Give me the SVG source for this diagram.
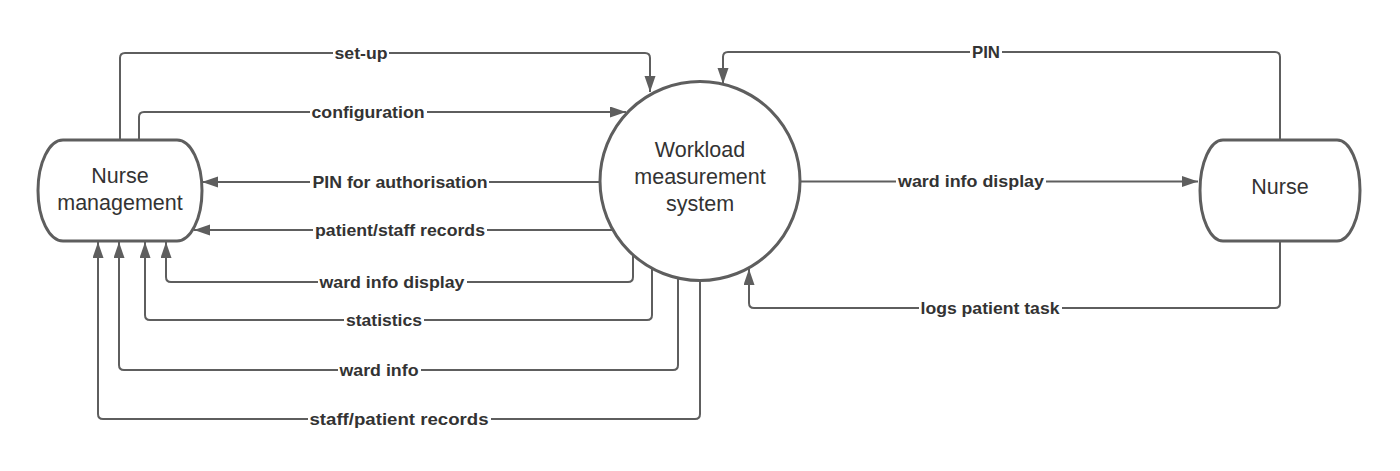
<svg xmlns="http://www.w3.org/2000/svg" width="1400" height="471" viewBox="0 0 1400 471">
<style>
.node{fill:#ffffff;stroke:#5e5e5e;stroke-width:3}
.ntext{font-family:"Liberation Sans",Arial,sans-serif;font-size:21.5px;fill:#333333;text-anchor:middle}
.conn{fill:none;stroke:#5e5e5e;stroke-width:2}
.lbg{fill:#ffffff}
.ltext{font-family:"Liberation Sans",Arial,sans-serif;font-size:16.5px;font-weight:bold;fill:#333333;text-anchor:middle}
</style>
<defs>
<marker id="arrow" markerUnits="userSpaceOnUse" markerWidth="17" markerHeight="12" refX="16" refY="5.5" orient="auto">
<path d="M0,0 L16,5.5 L0,11 z" fill="#5e5e5e"/>
</marker>
</defs>
<rect width="1400" height="471" fill="#ffffff"/>
<g id="connectors">
<path class="conn" marker-end="url(#arrow)" d="M120,140 V58 Q120,53 125,53 H645 Q650,53 650,58 V92"/>
<path class="conn" marker-end="url(#arrow)" d="M139,140 V117 Q139,112 144,112 H626"/>
<path class="conn" marker-end="url(#arrow)" d="M600,182 H202"/>
<path class="conn" marker-end="url(#arrow)" d="M613,230 H194"/>
<path class="conn" marker-end="url(#arrow)" d="M633,255 V277 Q633,282 628,282 H171 Q166,282 166,277 V242"/>
<path class="conn" marker-end="url(#arrow)" d="M652,269 V315 Q652,320 647,320 H150 Q145,320 145,315 V242"/>
<path class="conn" marker-end="url(#arrow)" d="M678,279 V365 Q678,370 673,370 H124 Q119,370 119,365 V242"/>
<path class="conn" marker-end="url(#arrow)" d="M700,281 V414 Q700,419 695,419 H103 Q98,419 98,414 V242"/>
<path class="conn" marker-end="url(#arrow)" d="M1280,140 V57 Q1280,52 1275,52 H728 Q723,52 723,57 V84"/>
<path class="conn" marker-end="url(#arrow)" d="M800,181.5 H1198"/>
<path class="conn" marker-end="url(#arrow)" d="M1280,241 V303 Q1280,308 1275,308 H754 Q749,308 749,303 V269"/>
<g id="labels">
<rect class="lbg" x="333" y="43" width="56" height="20"/>
<text class="ltext" x="361" y="58.5" textLength="53" lengthAdjust="spacingAndGlyphs">set-up</text>
<rect class="lbg" x="310" y="102" width="117" height="20"/>
<text class="ltext" x="368" y="117.5" textLength="113" lengthAdjust="spacingAndGlyphs">configuration</text>
<rect class="lbg" x="310" y="172" width="179" height="20"/>
<text class="ltext" x="400" y="187.5" textLength="175" lengthAdjust="spacingAndGlyphs">PIN for authorisation</text>
<rect class="lbg" x="313" y="220" width="174" height="20"/>
<text class="ltext" x="400" y="235.5" textLength="170" lengthAdjust="spacingAndGlyphs">patient/staff records</text>
<rect class="lbg" x="318" y="272" width="149" height="20"/>
<text class="ltext" x="392" y="287.5" textLength="145" lengthAdjust="spacingAndGlyphs">ward info display</text>
<rect class="lbg" x="344" y="310" width="80" height="20"/>
<text class="ltext" x="384" y="325.5" textLength="76" lengthAdjust="spacingAndGlyphs">statistics</text>
<rect class="lbg" x="338" y="360" width="83" height="20"/>
<text class="ltext" x="379" y="375.5" textLength="79" lengthAdjust="spacingAndGlyphs">ward info</text>
<rect class="lbg" x="308" y="409" width="183" height="20"/>
<text class="ltext" x="399" y="424.5" textLength="179" lengthAdjust="spacingAndGlyphs">staff/patient records</text>
<rect class="lbg" x="970" y="42" width="32" height="20"/>
<text class="ltext" x="986" y="57.5" textLength="28" lengthAdjust="spacingAndGlyphs">PIN</text>
<rect class="lbg" x="896" y="171" width="150" height="20"/>
<text class="ltext" x="971" y="186.5" textLength="146" lengthAdjust="spacingAndGlyphs">ward info display</text>
<rect class="lbg" x="919" y="298" width="143" height="20"/>
<text class="ltext" x="990" y="313.5" textLength="139" lengthAdjust="spacingAndGlyphs">logs patient task</text>
</g>
</g>
<g id="nurse-management">
<path class="node" d="M63,140 H177 A25,50.5 0 0 1 177,241 H63 A25,50.5 0 0 1 63,140 Z"/>
<text class="ntext" x="120" y="183">Nurse</text>
<text class="ntext" x="120" y="210">management</text>
</g>
<g id="workload-measurement-system">
<ellipse class="node" cx="700" cy="181" rx="100" ry="99.5"/>
<text class="ntext" x="700" y="157">Workload</text>
<text class="ntext" x="700" y="184">measurement</text>
<text class="ntext" x="700" y="211">system</text>
</g>
<g id="nurse">
<path class="node" d="M1223,140 H1337 A23,50.5 0 0 1 1337,241 H1223 A23,50.5 0 0 1 1223,140 Z"/>
<text class="ntext" x="1280" y="194">Nurse</text>
</g>
</svg>
